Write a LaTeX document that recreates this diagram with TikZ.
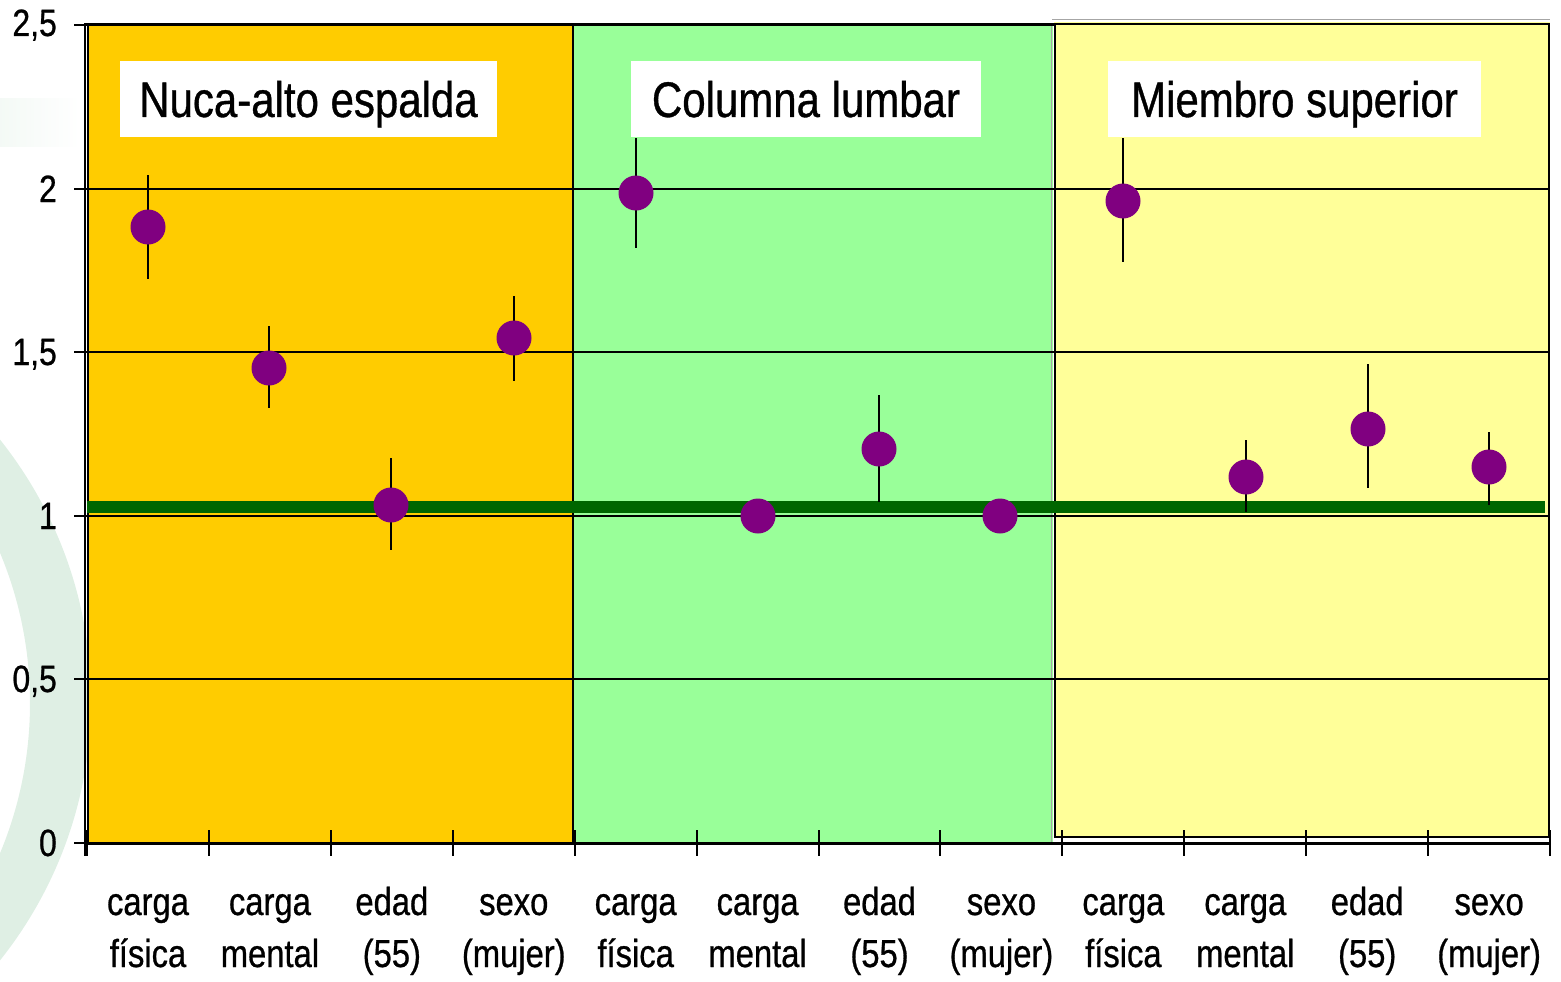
\documentclass[tikz,border=0pt]{standalone}
\usepackage{fontspec}
\setmainfont[FakeStretch=0.84,FakeBold=0.7]{Liberation Sans}
\definecolor{panelA}{RGB}{255,204,0}
\definecolor{panelB}{RGB}{153,255,153}
\definecolor{panelC}{RGB}{255,255,153}
\definecolor{refgreen}{RGB}{0,102,0}
\definecolor{dotpurple}{RGB}{128,0,128}
\definecolor{ringgreen}{RGB}{223,239,228}
\begin{document}
\begin{tikzpicture}[x=1pt,y=-1pt,
  gridline/.style={black,line width=1.5pt},
  axisline/.style={black,line width=3pt},
  ytick/.style={black,line width=2.5pt},
  xtick/.style={black,line width=2pt},
  errbar/.style={black,line width=2.5pt},
  dot/.style={circle,fill=dotpurple,inner sep=0pt,minimum size=35pt},
  titlebox/.style={fill=white,inner sep=0pt,minimum height=76pt},
  titletext/.style={font=\fontsize{50}{60}\selectfont,inner sep=0pt},
  ylab/.style={font=\fontsize{38}{44}\selectfont,inner sep=0pt,anchor=base east},
  xlab/.style={font=\fontsize{39}{52}\selectfont,inner sep=0pt,align=center,anchor=base}]
\useasboundingbox (0,0) rectangle (1561,982);
% decorative background
\fill[ringgreen,even odd rule] (-327,700) circle (418pt) (-360,703) circle (390pt);
\shade[left color=ringgreen!35,right color=white] (0,98) rectangle (80,146);
% panels
\fill[panelA] (87,25) rectangle (574,843);
\fill[panelB] (574,25) rectangle (1053,843);
\fill[panelC] (1054,22) rectangle (1550,837);
\draw[gray!70,line width=1pt] (1052,20) -- (1550,20);
\draw[gray!70,line width=1pt] (1051,25) -- (1051,843);
\draw[black,line width=2pt] (1055,24) rectangle (1549,837);
\draw[black,line width=1.5pt] (573,25) -- (573,843);
% grid
\foreach \yy in {189,352,516,679}{
  \draw[gridline] (87,\yy) -- (1550,\yy);
}
\foreach \yy in {25,189,352,516,679,843}{
  \draw[ytick] (74,\yy) -- (100,\yy);
}
% axes
\draw[black,line width=2pt] (87.5,25) -- (87.5,843);
\draw[black,line width=2pt] (84.5,25) -- (84.5,856);
\draw[axisline] (84,25) -- (1054,25);
\draw[axisline] (84,843) -- (1551,843);
\foreach \i in {0,...,12}{
  \draw[xtick] ({87+121.92*\i},830) -- ({87+121.92*\i},856);
}
% y labels
\node[ylab] (y25) at (57,36) {2,5};
\node[ylab] (y20) at (57,202) {2};
\node[ylab] (y15) at (57,365) {1,5};
\node[ylab] (y10) at (57,529) {1};
\node[ylab] (y05) at (57,692) {0,5};
\node[ylab] (y00) at (57,856) {0};
% reference line
\coordinate (gl) at (87,507);
\coordinate (gr) at (1545,507);
\draw[refgreen,line width=12pt] (gl) -- (gr);
% error bars
\foreach \i/\xx/\tt/\bb in {1/148/175/279,2/269/326/408,3/391/458/550,4/514/296/381,5/636/138/248,7/879/395/502,9/1123/138/262,10/1246/440/512,11/1368/364/488,12/1489/432/505}{
  \coordinate (t\i) at (\xx,\tt);
  \coordinate (b\i) at (\xx,\bb);
  \draw[errbar] (t\i) -- (b\i);
}
% dots
\foreach \i/\xx/\yy in {1/148/227,2/269/368,3/391/505,4/514/338,5/636/193,6/758/516,7/879/449,8/1000/516,9/1123/201,10/1246/477,11/1368/429,12/1489/467}{
  \node[dot] (d\i) at (\xx,\yy) {};
}
% titles
\node[titlebox,minimum width=377pt] (box1) at (308.5,99) {};
\node[titletext,anchor=base] (title1) at (308.5,117) {Nuca-alto espalda};
\node[titlebox,minimum width=350pt] (box2) at (806,99) {};
\node[titletext,anchor=base] (title2) at (806,117) {Columna lumbar};
\node[titlebox,minimum width=373pt] (box3) at (1294.5,99) {};
\node[titletext,anchor=base] (title3) at (1294.5,117) {Miembro superior};
% category labels
\foreach \i/\txt in {0/{carga\\física},1/{carga\\mental},2/{edad\\(55)},3/{sexo\\(mujer)},4/{carga\\física},5/{carga\\mental},6/{edad\\(55)},7/{sexo\\(mujer)},8/{carga\\física},9/{carga\\mental},10/{edad\\(55)},11/{sexo\\(mujer)}}{
  \node[xlab] (c\i) at ({148+121.92*\i},967) {\txt};
}
\end{tikzpicture}
\end{document}
